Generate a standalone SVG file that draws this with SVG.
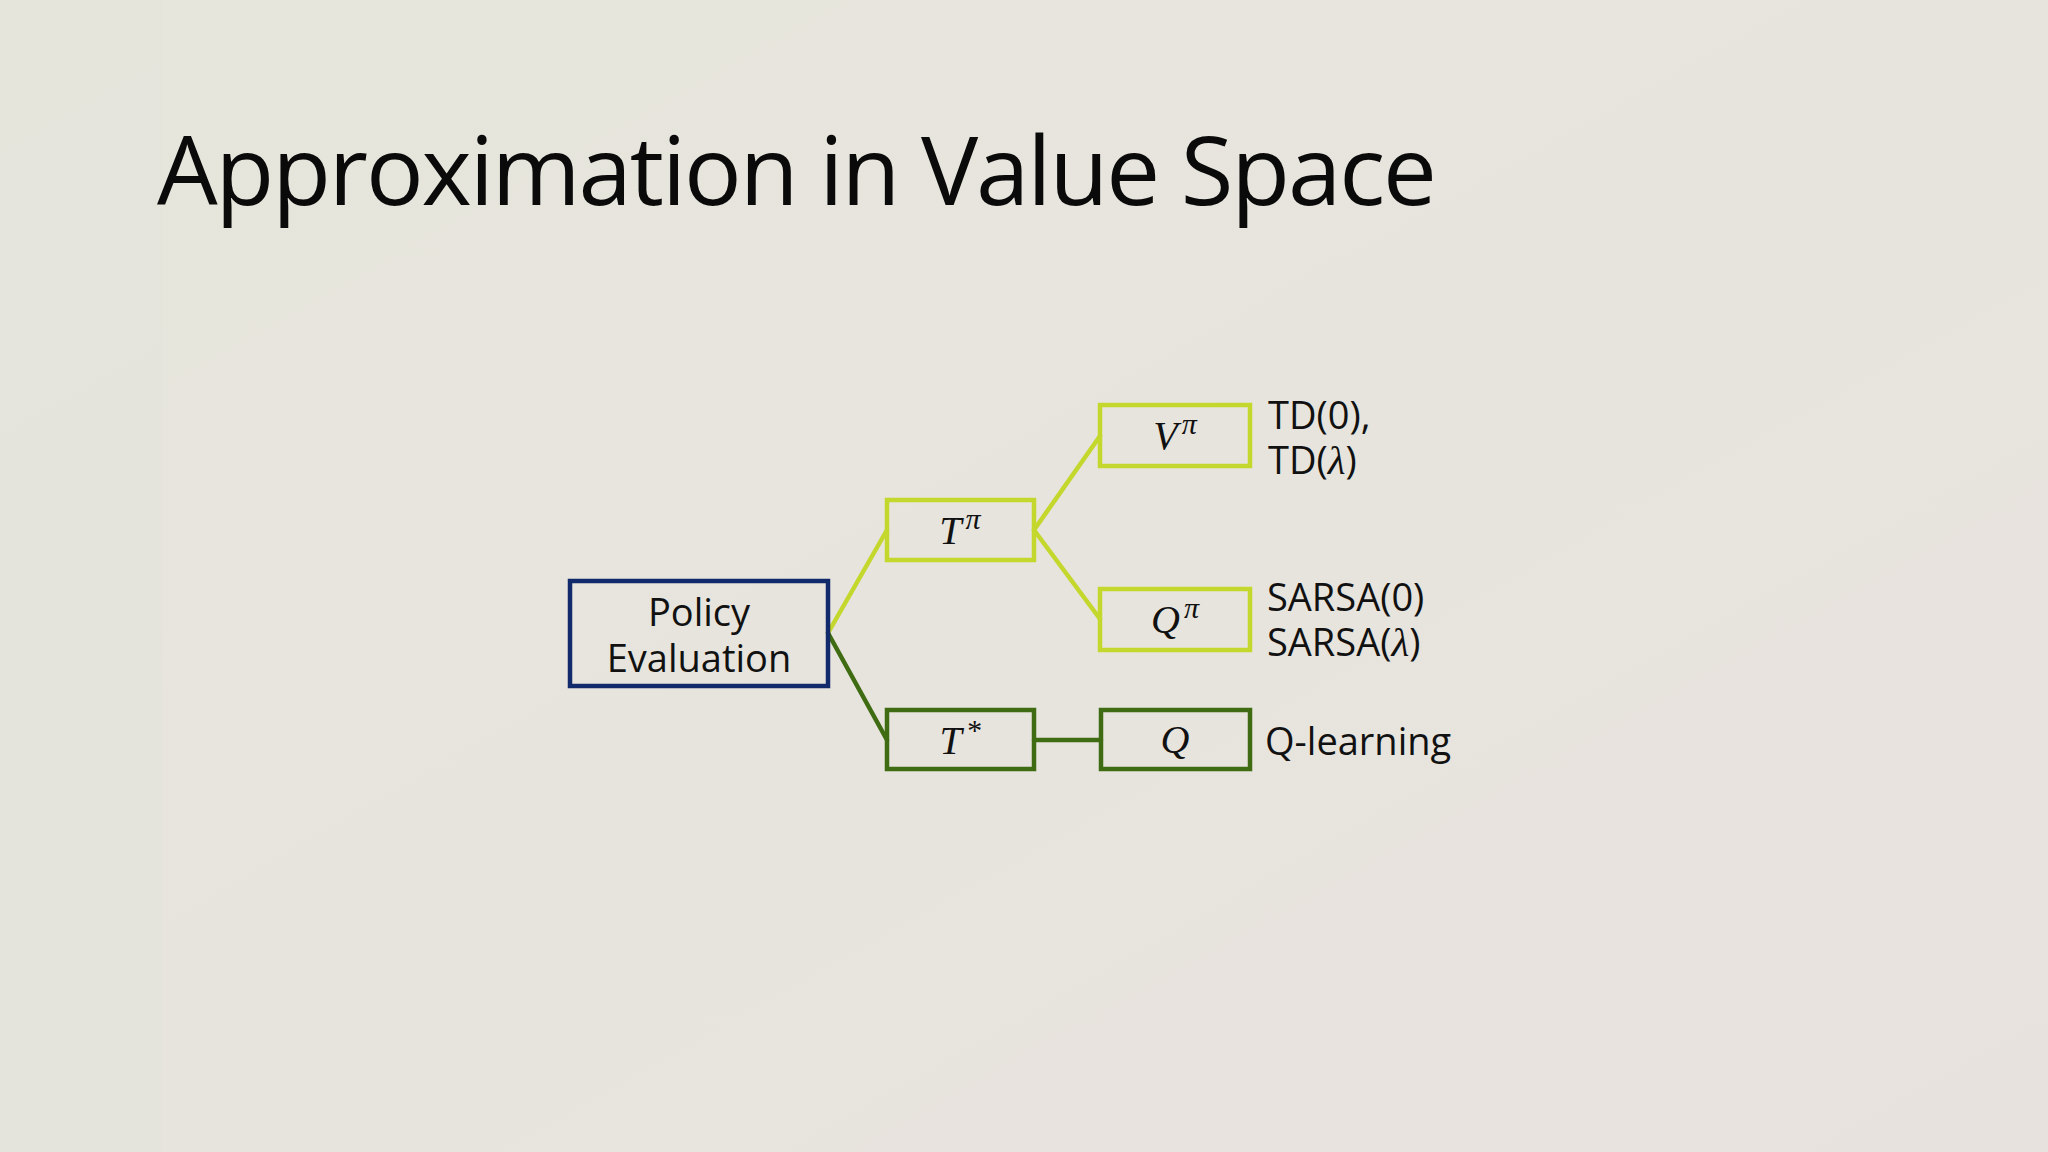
<svg xmlns="http://www.w3.org/2000/svg" width="2048" height="1152" viewBox="0 0 2048 1152">
  <defs>
    <linearGradient id="bg" x1="0" y1="0" x2="1" y2="1">
      <stop offset="0" stop-color="#e6e6dc"/>
      <stop offset="1" stop-color="#e8e2de"/>
    </linearGradient>
    <style>
      .box { fill: none; stroke-width: 4.5; }
      .navy { stroke: #112a6c; }
      .light { stroke: #c4d72c; }
      .dark { stroke: #3f6c12; }
      .conn { fill: none; stroke-width: 4.5; stroke-linecap: round; }
      .lbl { font-family: "Open Sans", "Noto Sans", "Liberation Sans", sans-serif; font-size: 38px; fill: #111111; }
      .lam { font-family: "Liberation Serif", "DejaVu Serif", serif; font-style: italic; font-size: 41px; }
      .math { font-family: "Liberation Serif", "DejaVu Serif", serif; font-style: italic; font-size: 40px; fill: #111111; }
      .sup { font-size: 30px; }
      .title { font-family: "Open Sans", "Noto Sans", "Liberation Sans", sans-serif; font-size: 96px; fill: #0a0a0a; }
    </style>
  </defs>
  <rect x="0" y="0" width="2048" height="1152" fill="url(#bg)"/>
  <rect x="0" y="0" width="162" height="1152" fill="#e4e4db" opacity="0.5"/>

  <text class="title" x="157" y="205" textLength="1280" lengthAdjust="spacing">Approximation in Value Space</text>

  <g id="connectors">
    <line class="conn light" x1="828" y1="633" x2="887" y2="530"/>
    <line class="conn dark" x1="828" y1="633" x2="887" y2="740"/>
    <line class="conn light" x1="1034" y1="530" x2="1100" y2="436"/>
    <line class="conn light" x1="1034" y1="530" x2="1100" y2="619"/>
    <line class="conn dark" x1="1034" y1="740" x2="1101" y2="740"/>
  </g>

  <g id="policy-evaluation">
    <rect class="box navy" x="570" y="581" width="258" height="105"/>
    <text class="lbl" x="699" y="626" text-anchor="middle">Policy</text>
    <text class="lbl" x="699" y="672" text-anchor="middle">Evaluation</text>
  </g>

  <g id="t-pi">
    <rect class="box light" x="887" y="500" width="147" height="60"/>
    <text class="math" x="960" y="544" text-anchor="middle">T<tspan class="sup" dx="4" dy="-15">π</tspan></text>
  </g>

  <g id="t-star">
    <rect class="box dark" x="887" y="710" width="147" height="59"/>
    <text class="math" x="960" y="754" text-anchor="middle">T<tspan class="sup" dx="4" dy="-14">*</tspan></text>
  </g>

  <g id="v-pi">
    <rect class="box light" x="1100" y="405" width="150" height="61"/>
    <text class="math" x="1175" y="449" text-anchor="middle">V<tspan class="sup" dx="4" dy="-15">π</tspan></text>
  </g>

  <g id="q-pi">
    <rect class="box light" x="1100" y="589" width="150" height="61"/>
    <text class="math" x="1175" y="633" text-anchor="middle">Q<tspan class="sup" dx="4" dy="-15">π</tspan></text>
  </g>

  <g id="q">
    <rect class="box dark" x="1101" y="710" width="149" height="59"/>
    <text class="math" x="1175" y="753" text-anchor="middle">Q</text>
  </g>

  <g id="labels">
    <text class="lbl" x="1268" y="429">TD(0),</text>
    <text class="lbl" x="1268" y="474">TD(<tspan class="lam">λ</tspan>)</text>
    <text class="lbl" x="1267" y="611">SARSA(0)</text>
    <text class="lbl" x="1267" y="656">SARSA(<tspan class="lam">λ</tspan>)</text>
    <text class="lbl" x="1265" y="755">Q-learning</text>
  </g>
</svg>
